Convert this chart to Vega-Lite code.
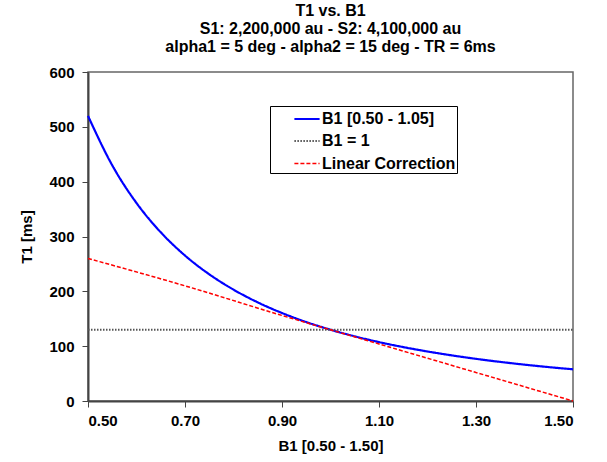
{
  "$schema": "https://vega.github.io/schema/vega-lite/v6.json",
  "autosize": {"type": "none"},
  "width": 485,
  "height": 329,
  "padding": {"left": 88, "top": 72, "right": 34, "bottom": 61},
  "background": "white",
  "title": {
    "text": ["T1 vs. B1", "S1: 2,200,000 au - S2: 4,100,000 au", "alpha1 = 5 deg - alpha2 = 15 deg - TR = 6ms"],
    "font": "Liberation Sans",
    "fontSize": 16,
    "fontWeight": "bold",
    "color": "black",
    "lineHeight": 18,
    "anchor": "middle",
    "offset": 10
  },
  "config": {
    "view": {"stroke": "#666666", "strokeWidth": 1.5},
    "axis": {
      "labelFont": "Liberation Sans",
      "labelFontSize": 15,
      "labelFontWeight": "bold",
      "labelColor": "black",
      "titleFont": "Liberation Sans",
      "titleFontSize": 15,
      "titleFontWeight": "bold",
      "titleColor": "black",
      "domainColor": "#444444",
      "domainWidth": 2,
      "tickColor": "#444444",
      "tickSize": 6,
      "grid": false
    }
  },
  "data": {
    "values": [
      {"series": "B1 [0.50 - 1.05]", "B1": 0.50, "T1": 520.0},
      {"series": "B1 [0.50 - 1.05]", "B1": 0.55, "T1": 429.8},
      {"series": "B1 [0.50 - 1.05]", "B1": 0.60, "T1": 361.1},
      {"series": "B1 [0.50 - 1.05]", "B1": 0.65, "T1": 307.7},
      {"series": "B1 [0.50 - 1.05]", "B1": 0.70, "T1": 265.3},
      {"series": "B1 [0.50 - 1.05]", "B1": 0.75, "T1": 231.1},
      {"series": "B1 [0.50 - 1.05]", "B1": 0.80, "T1": 203.1},
      {"series": "B1 [0.50 - 1.05]", "B1": 0.85, "T1": 179.9},
      {"series": "B1 [0.50 - 1.05]", "B1": 0.90, "T1": 160.5},
      {"series": "B1 [0.50 - 1.05]", "B1": 0.95, "T1": 144.0},
      {"series": "B1 [0.50 - 1.05]", "B1": 1.00, "T1": 130.0},
      {"series": "B1 [0.50 - 1.05]", "B1": 1.05, "T1": 117.9},
      {"series": "B1 [0.50 - 1.05]", "B1": 1.10, "T1": 107.4},
      {"series": "B1 [0.50 - 1.05]", "B1": 1.15, "T1": 98.3},
      {"series": "B1 [0.50 - 1.05]", "B1": 1.20, "T1": 90.3},
      {"series": "B1 [0.50 - 1.05]", "B1": 1.25, "T1": 83.2},
      {"series": "B1 [0.50 - 1.05]", "B1": 1.30, "T1": 76.9},
      {"series": "B1 [0.50 - 1.05]", "B1": 1.35, "T1": 71.3},
      {"series": "B1 [0.50 - 1.05]", "B1": 1.40, "T1": 66.3},
      {"series": "B1 [0.50 - 1.05]", "B1": 1.45, "T1": 61.8},
      {"series": "B1 [0.50 - 1.05]", "B1": 1.50, "T1": 57.8},
      {"series": "B1 = 1", "B1": 0.50, "T1": 130},
      {"series": "B1 = 1", "B1": 1.50, "T1": 130},
      {"series": "Linear Correction", "B1": 0.50, "T1": 260},
      {"series": "Linear Correction", "B1": 0.70, "T1": 210},
      {"series": "Linear Correction", "B1": 0.90, "T1": 156},
      {"series": "Linear Correction", "B1": 1.10, "T1": 104},
      {"series": "Linear Correction", "B1": 1.30, "T1": 52},
      {"series": "Linear Correction", "B1": 1.50, "T1": 0}
    ]
  },
  "mark": {"type": "line", "interpolate": "monotone"},
  "encoding": {
    "x": {
      "field": "B1", "type": "quantitative",
      "scale": {"domain": [0.5, 1.5], "nice": false, "zero": false},
      "axis": {"values": [0.5, 0.7, 0.9, 1.1, 1.3, 1.5], "format": ".2f", "title": "B1 [0.50 - 1.50]", "labelPadding": 6, "titlePadding": 10}
    },
    "y": {
      "field": "T1", "type": "quantitative",
      "scale": {"domain": [0, 600], "nice": false},
      "axis": {"values": [0, 100, 200, 300, 400, 500, 600], "title": "T1 [ms]", "labelPadding": 8, "titlePadding": 14}
    },
    "color": {
      "field": "series", "type": "nominal",
      "scale": {"domain": ["B1 [0.50 - 1.05]", "B1 = 1", "Linear Correction"], "range": ["#0000ff", "#555555", "#ff0000"]},
      "legend": {
        "title": null,
        "orient": "none",
        "legendX": 182,
        "legendY": 34,
        "fillColor": "white",
        "strokeColor": "black",
        "padding": 1,
        "labelFont": "Liberation Sans",
        "labelFontSize": 16,
        "labelFontWeight": "bold",
        "labelColor": "black",
        "labelOffset": 3,
        "symbolType": "M-1.2,0H1.2",
        "symbolSize": 441,
        "symbolOffset": 24,
        "symbolStrokeWidth": 2,
        "rowPadding": 2.5
      }
    },
    "strokeDash": {
      "field": "series", "type": "nominal",
      "scale": {"domain": ["B1 [0.50 - 1.05]", "B1 = 1", "Linear Correction"], "range": [[1, 0], [1.5, 1.5], [4, 2]]},
      "legend": null
    },
    "strokeWidth": {
      "field": "series", "type": "nominal",
      "scale": {"domain": ["B1 [0.50 - 1.05]", "B1 = 1", "Linear Correction"], "range": [2.2, 1.5, 1.5]},
      "legend": null
    }
  }
}
